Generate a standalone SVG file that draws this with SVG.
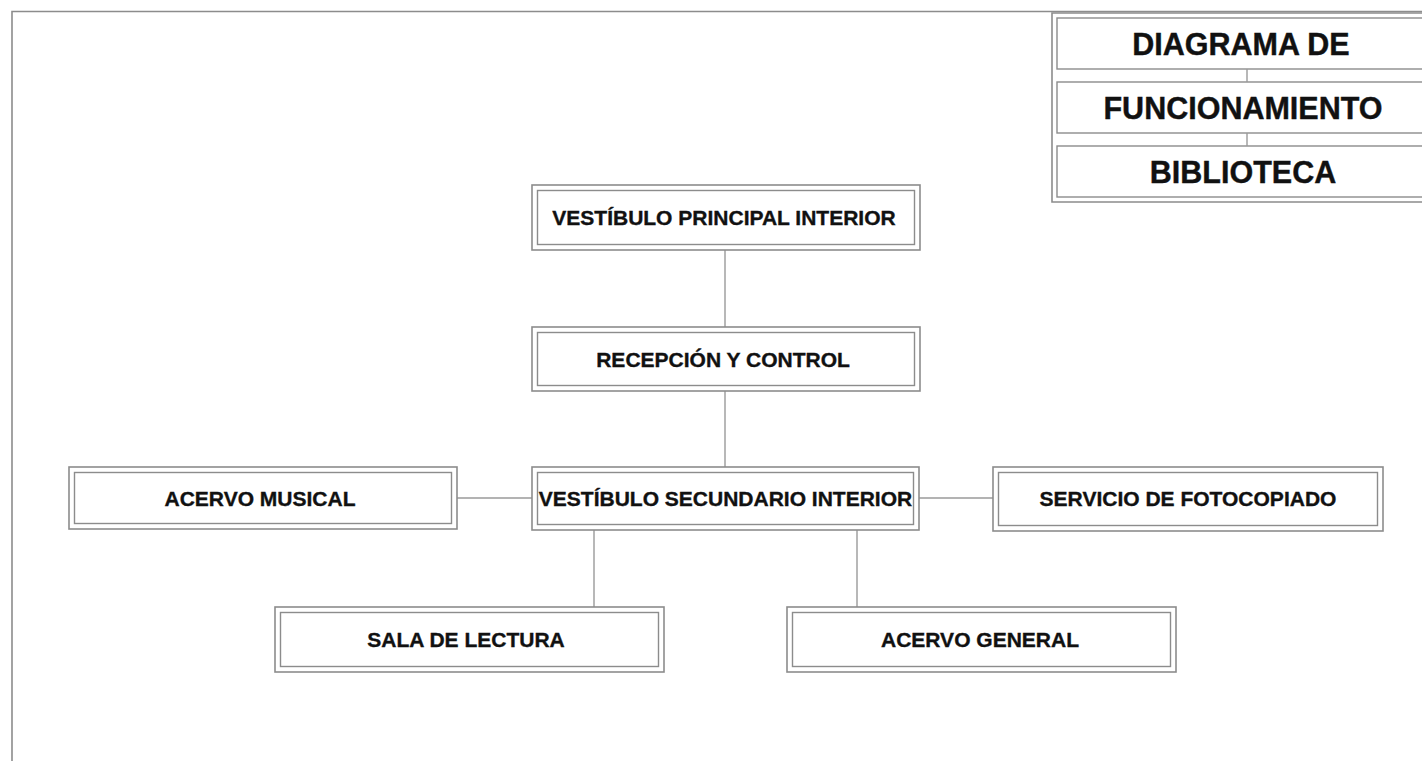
<svg xmlns="http://www.w3.org/2000/svg" width="1422" height="761" viewBox="0 0 1422 761">
<style>
.o{fill:none;stroke:#8c8c8c;stroke-width:1.6}
.i{fill:none;stroke:#8c8c8c;stroke-width:1.4}
.t{font-family:"Liberation Sans",Arial,sans-serif;font-weight:bold;font-size:21px;fill:#111111;stroke:#111111;stroke-width:0.35;text-anchor:middle}
.h{font-family:"Liberation Sans",Arial,sans-serif;font-weight:bold;font-size:30.5px;fill:#111111;stroke:#111111;stroke-width:0.4;text-anchor:middle}
.c{fill:none;stroke:#9a9a9a;stroke-width:1.4}
</style>
<rect width="1422" height="761" fill="#ffffff"/>
<path class="o" d="M12,761 V11.5 H1422"/>
<g id="title">
<path class="o" d="M1422,13 H1052 V202 H1422"/>
<rect class="i" x="1057" y="18" width="380" height="51"/>
<rect class="i" x="1057" y="82" width="380" height="51"/>
<rect class="i" x="1057" y="146" width="380" height="51"/>
<line class="c" x1="1247" y1="69" x2="1247" y2="82"/>
<line class="c" x1="1247" y1="133" x2="1247" y2="146"/>
<text class="h" x="1241" y="55">DIAGRAMA DE</text>
<text class="h" x="1243" y="119">FUNCIONAMIENTO</text>
<text class="h" x="1243" y="183">BIBLIOTECA</text>
</g>
<g id="connectors">
<line class="c" x1="725" y1="250" x2="725" y2="327"/>
<line class="c" x1="725" y1="391" x2="725" y2="467"/>
<line class="c" x1="457" y1="498" x2="532" y2="498"/>
<line class="c" x1="919" y1="498" x2="993" y2="498"/>
<line class="c" x1="594" y1="530" x2="594" y2="607"/>
<line class="c" x1="857" y1="530" x2="857" y2="607"/>
</g>
<g id="vestibulo-principal">
<rect class="o" x="532" y="185" width="388" height="65"/>
<rect class="i" x="537.5" y="190.5" width="377" height="54"/>
<text class="t" x="724" y="225">VESTÍBULO PRINCIPAL INTERIOR</text>
</g>
<g id="recepcion">
<rect class="o" x="532" y="327" width="388" height="64"/>
<rect class="i" x="537.5" y="332.5" width="377" height="53"/>
<text class="t" x="723" y="366.5">RECEPCIÓN Y CONTROL</text>
</g>
<g id="vestibulo-secundario">
<rect class="o" x="532" y="467" width="387" height="63"/>
<rect class="i" x="537.5" y="472.5" width="376" height="52"/>
<text class="t" x="725.5" y="506">VESTÍBULO SECUNDARIO INTERIOR</text>
</g>
<g id="acervo-musical">
<rect class="o" x="69" y="467" width="388" height="62"/>
<rect class="i" x="74.5" y="472.5" width="377" height="51"/>
<text class="t" x="260" y="506">ACERVO MUSICAL</text>
</g>
<g id="fotocopiado">
<rect class="o" x="993" y="467" width="390" height="64"/>
<rect class="i" x="998.5" y="472.5" width="379" height="53"/>
<text class="t" x="1188" y="506">SERVICIO DE FOTOCOPIADO</text>
</g>
<g id="sala-lectura">
<rect class="o" x="275" y="607" width="389" height="65"/>
<rect class="i" x="280.5" y="612.5" width="378" height="54"/>
<text class="t" x="466" y="647">SALA DE LECTURA</text>
</g>
<g id="acervo-general">
<rect class="o" x="787" y="607" width="389" height="65"/>
<rect class="i" x="792.5" y="612.5" width="378" height="54"/>
<text class="t" x="980" y="647">ACERVO GENERAL</text>
</g>
</svg>
